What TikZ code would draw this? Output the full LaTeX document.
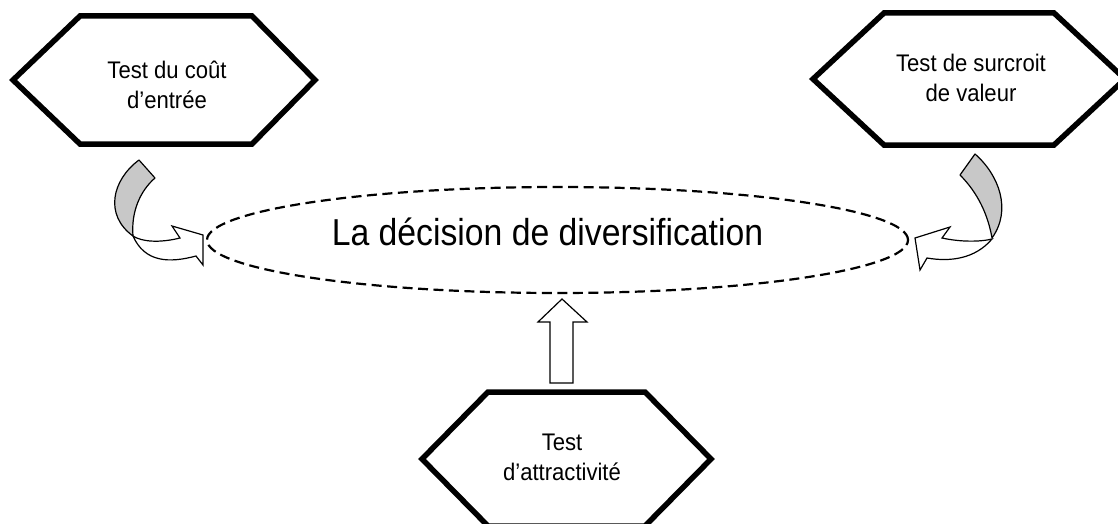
\documentclass[tikz,border=0pt]{standalone}
\usepackage{fontspec}
\setmainfont{Liberation Sans}
\usepackage{graphicx}
\usetikzlibrary{shapes.geometric}
\definecolor{bandgray}{RGB}{200,200,200}
\tikzset{
  hexa/.style={draw=black, line width=5.5pt, line join=miter, fill=white},
  txt/.style={inner sep=0pt, font=\fontsize{24}{30}\selectfont},
  bigtxt/.style={inner sep=0pt, font=\fontsize{37.5}{45}\selectfont},
  ell/.style={draw=black, line width=2.2pt, dash pattern=on 10pt off 5.5pt},
  band/.style={draw=black, line width=1.2pt, fill=bandgray, line join=round},
  blockarrow/.style={draw=black, line width=1.2pt, fill=white, line join=miter}
}
\newcommand{\twolines}[2]{\scalebox{0.92}[1]{\begin{tabular}{@{}c@{}}#1\\#2\end{tabular}}}
\begin{document}
\begin{tikzpicture}[x=1pt,y=-1pt]
\useasboundingbox (0,0) rectangle (1118,524);
\clip (0,0) rectangle (1118,524);
\fill[white] (0,0) rectangle (1118,524);

% hexagons
\draw[hexa] (13,80) -- (80,16) -- (252,16) -- (315,80) -- (252,144) -- (80,144) -- cycle;
\draw[hexa] (813,79) -- (884,13) -- (1054,13) -- (1125,79) -- (1054,145) -- (884,145) -- cycle;
\draw[hexa] (422,459) -- (488,392) -- (645,392) -- (711,459) -- (645,526) -- (488,526) -- cycle;

\node[txt] (t1) at (167,88) {\twolines{Test du coût}{d’entrée}};
\node[txt] (t2) at (971,81) {\twolines{Test de surcroit}{de valeur}};
\node[txt] (t3) at (562,459) {\twolines{Test}{d’attractivité}};

% central ellipse
\node[ell, ellipse, minimum width=701pt, minimum height=106pt, inner sep=0pt] (dec) at (557.5,240) {};
\node[bigtxt, anchor=base] (lab) at (547.5,245) {\scalebox{0.9}[1]{La décision de diversification}};

% left curved arrow
\draw[blockarrow] (133,236) .. controls (145,263) and (170,263) .. (196,256)
  -- (203,265) -- (203,235) -- (172,226) -- (180,238)
  .. controls (160,243) and (142,242) .. (133,236) -- cycle;
\draw[band] (139,160) -- (155,178) .. controls (140,191) and (131,212) .. (133,236)
  .. controls (104,215) and (112,180) .. (139,160) -- cycle;

% right curved arrow
\draw[blockarrow] (992,239) .. controls (975,259) and (950,262) .. (927,258)
  -- (920,270) -- (915,238) -- (950,227) -- (942,238)
  .. controls (960,242) and (980,242) .. (992,239) -- cycle;
\draw[band] (975,154) .. controls (999,175) and (1012,210) .. (992,238)
  .. controls (988,215) and (978,193) .. (960,175) -- cycle;

% up block arrow
\draw[blockarrow] (550,383) -- (550,322) -- (538,322) -- (562,299) -- (587,322)
  -- (573,322) -- (573,383) -- cycle;
\end{tikzpicture}
\end{document}
